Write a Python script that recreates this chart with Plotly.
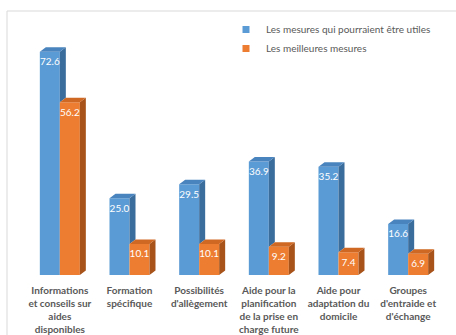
import plotly.graph_objects as go

# Data
categories = [
    "Informations<br>et conseils sur<br>aides<br>disponibles",
    "Formation<br>spécifique",
    "Possibilités<br>d'allègement",
    "Aide pour la<br>planification<br>de la prise en<br>charge future",
    "Aide pour<br>adaptation du<br>domicile",
    "Groupes<br>d'entraide et<br>d'échange",
]
mesures_utiles = [72.6, 25.0, 29.5, 36.9, 35.2, 16.6]
meilleures_mesures = [56.2, 10.1, 10.1, 9.2, 7.4, 6.9]
series_names = ["Les mesures qui pourraient être utiles", "Les meilleures mesures"]

# Layout geometry: plot area runs from the chart border down to the bar baseline
W, H = 456, 335
ML, MR, MT, MB = 25, 13, 11, 60
PX_PER_UNIT = 3.075
plot_w = W - ML - MR
plot_h = H - MT - MB
y_max = plot_h / PX_PER_UNIT
px_per_cat = plot_w / len(categories)

bar_w = 20 / px_per_cat          # each bar ~20 px wide
dx = 6 / px_per_cat              # 3D depth, horizontal
dy = 4.5 / PX_PER_UNIT           # 3D depth, vertical

BLUE, BLUE_TOP, BLUE_SIDE = "#5B9BD5", "#4A84BF", "#3A6D9C"
ORANGE, ORANGE_TOP, ORANGE_SIDE = "#ED7D31", "#CF6822", "#A8531A"

idx = list(range(len(categories)))
x_blue = [i - bar_w / 2 for i in idx]
x_orange = [i + bar_w / 2 for i in idx]

fig = go.Figure()

# Front faces
fig.add_trace(go.Bar(x=x_blue, y=mesures_utiles, width=bar_w, marker=dict(color=BLUE, line=dict(width=0)),
                     showlegend=False, hoverinfo="skip"))
fig.add_trace(go.Bar(x=x_orange, y=meilleures_mesures, width=bar_w, marker=dict(color=ORANGE, line=dict(width=0)),
                     showlegend=False, hoverinfo="skip"))


def poly_trace(xs, ys, color):
    return go.Scatter(x=xs, y=ys, mode="lines", fill="toself", fillcolor=color,
                      line=dict(width=0, color=color), showlegend=False, hoverinfo="skip")


# Blue side faces: visible part above the orange bar standing in front of them
sx, sy = [], []
for xc, v, vo in zip(x_blue, mesures_utiles, meilleures_mesures):
    xr = xc + bar_w / 2
    sx += [xr, xr + dx, xr + dx, xr, xr, None]
    sy += [vo, vo + dy, v + dy, v, vo, None]
fig.add_trace(poly_trace(sx, sy, BLUE_SIDE))

# Blue top faces
tx, ty = [], []
for xc, v in zip(x_blue, mesures_utiles):
    xl, xr = xc - bar_w / 2, xc + bar_w / 2
    tx += [xl, xl + dx, xr + dx, xr, xl, None]
    ty += [v, v + dy, v + dy, v, v, None]
fig.add_trace(poly_trace(tx, ty, BLUE_TOP))

# Orange side faces
sx, sy = [], []
for xc, v in zip(x_orange, meilleures_mesures):
    xr = xc + bar_w / 2
    sx += [xr, xr + dx, xr + dx, xr, xr, None]
    sy += [0, dy, v + dy, v, 0, None]
fig.add_trace(poly_trace(sx, sy, ORANGE_SIDE))

# Orange top faces
tx, ty = [], []
for xc, v in zip(x_orange, meilleures_mesures):
    xl, xr = xc - bar_w / 2, xc + bar_w / 2
    tx += [xl, xl + dx, xr + dx, xr, xl, None]
    ty += [v, v + dy, v + dy, v, v, None]
fig.add_trace(poly_trace(tx, ty, ORANGE_TOP))

# Value labels inside the front faces, a little below the top edge
label_font = dict(family="Lato, Open Sans, sans-serif", size=10, color="white")
label_drop = 6 / PX_PER_UNIT
for xs, vals in ((x_blue, mesures_utiles), (x_orange, meilleures_mesures)):
    fig.add_trace(go.Scatter(x=xs, y=[v - label_drop for v in vals], mode="text",
                             text=[f"{v:.1f}" for v in vals],
                             textposition="bottom center", textfont=label_font,
                             showlegend=False, hoverinfo="skip"))

# Legend entries
for name, color in zip(series_names, (BLUE, ORANGE)):
    fig.add_trace(go.Scatter(x=[None], y=[None], mode="markers", name=name,
                             marker=dict(symbol="square", size=7, color=color)))

# Outer chart border (top and left edges visible)
fig.add_shape(type="rect", xref="paper", yref="paper",
              x0=(7 - ML) / plot_w, x1=1.2, y0=-0.5, y1=1,
              line=dict(color="#D9D9D9", width=1), fillcolor="rgba(0,0,0,0)", layer="below")

fig.update_layout(
    width=W, height=H,
    margin=dict(l=ML, r=MR, t=MT, b=MB, autoexpand=False),
    paper_bgcolor="white", plot_bgcolor="white",
    barmode="overlay",
    xaxis=dict(range=[-0.5, len(categories) - 0.5], tickmode="array", tickvals=idx, ticktext=categories,
               showgrid=False, zeroline=False, showline=False, ticks="", ticklabelstandoff=8,
               tickfont=dict(family="Lato, Open Sans, sans-serif", size=10, color="#595959", weight="bold"),
               fixedrange=True),
    yaxis=dict(range=[0, y_max], visible=False, fixedrange=True),
    legend=dict(x=(226 - ML) / plot_w, xanchor="left", y=1 - 4 / plot_h, yanchor="top",
                font=dict(family="Lato, Open Sans, sans-serif", size=10, color="#595959"),
                itemwidth=30, tracegroupgap=0, bgcolor="rgba(0,0,0,0)"),
    showlegend=True,
)

fig.write_html("out.html")
